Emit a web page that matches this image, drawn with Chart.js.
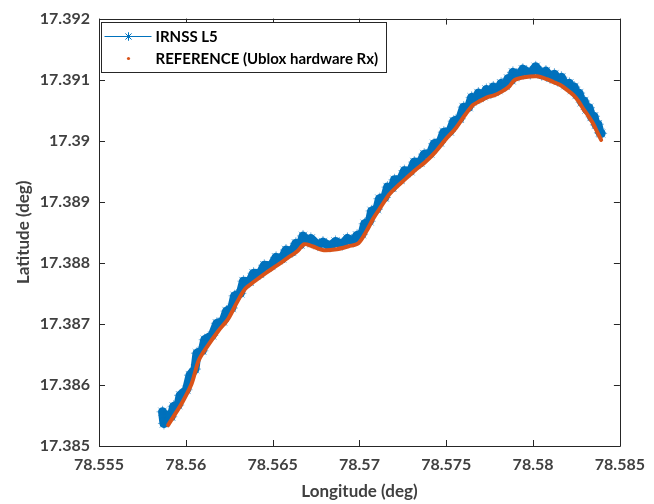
<!DOCTYPE html>
<html>
<head>
<meta charset="utf-8">
<script src="https://cdn.jsdelivr.net/npm/chart.js@4"></script>
<style>
html,body{margin:0;padding:0;background:#fff;}
#wrap{width:654px;height:504px;position:relative;}
</style>
</head>
<body>
<div id="wrap"><canvas id="c" width="654" height="504"></canvas></div>
<script>
// ---------- DATA ----------
const xTickValues = [78.555, 78.56, 78.565, 78.57, 78.575, 78.58, 78.585];
const xTickLabels = ['78.555', '78.56', '78.565', '78.57', '78.575', '78.58', '78.585'];
const yTickValues = [17.385, 17.386, 17.387, 17.388, 17.389, 17.39, 17.391, 17.392];
const yTickLabels = ['17.385', '17.386', '17.387', '17.388', '17.389', '17.39', '17.391', '17.392'];

const seriesNames = ['IRNSS L5', 'REFERENCE (Ublox hardware Rx)'];

// IRNSS L5 (noisy receiver track)
const irnssLon = [
  78.55866, 78.55874, 78.55880,
  78.55890, 78.55916, 78.55930, 78.55956, 78.55967, 78.56004, 78.56024, 78.56053,
  78.56064, 78.56095, 78.56109, 78.56152, 78.56179, 78.56214, 78.56235, 78.56265,
  78.56281, 78.56314, 78.56332, 78.56368, 78.56390, 78.56427, 78.56452, 78.56492,
  78.56520, 78.56555, 78.56577, 78.56612, 78.56634, 78.56660, 78.56675, 78.56703,
  78.56720, 78.56760, 78.56790, 78.56831, 78.56862, 78.56902, 78.56931, 78.56964,
  78.56986, 78.57015, 78.57030, 78.57058, 78.57070, 78.57101, 78.57115, 78.57146,
  78.57162, 78.57189, 78.57202, 78.57237, 78.57259, 78.57294, 78.57316, 78.57351,
  78.57373, 78.57408, 78.57430, 78.57464, 78.57486, 78.57521, 78.57543, 78.57578,
  78.57600, 78.57629, 78.57646, 78.57672, 78.57685, 78.57714, 78.57731, 78.57757,
  78.57771, 78.57800, 78.57816, 78.57842, 78.57856, 78.57876, 78.57884, 78.57919,
  78.57941, 78.57984, 78.58015, 78.58050, 78.58074, 78.58098, 78.58123, 78.58143,
  78.58163, 78.58186, 78.58209, 78.58223, 78.58237, 78.58251, 78.58265, 78.58280,
  78.58294, 78.58308, 78.58322, 78.58337, 78.58351, 78.58362, 78.58373, 78.58385,
  78.58392
];
const irnssLat = [
  17.38556, 17.38537, 17.38552,
  17.38546, 17.38548, 17.38565, 17.38567, 17.38583, 17.38592, 17.38616, 17.38626,
  17.38652, 17.38656, 17.38674, 17.38681, 17.38701, 17.38704, 17.38721, 17.38726,
  17.38746, 17.38750, 17.38770, 17.38769, 17.38783, 17.38782, 17.38796, 17.38795,
  17.38809, 17.38807, 17.38821, 17.38818, 17.38832, 17.38830, 17.38844, 17.38835,
  17.38840, 17.38829, 17.38834, 17.38827, 17.38835, 17.38830, 17.38840, 17.38835,
  17.38845, 17.38847, 17.38864, 17.38868, 17.38885, 17.38888, 17.38905, 17.38907,
  17.38924, 17.38923, 17.38936, 17.38936, 17.38951, 17.38950, 17.38965, 17.38964,
  17.38978, 17.38979, 17.38995, 17.38997, 17.39014, 17.39015, 17.39032, 17.39036,
  17.39055, 17.39055, 17.39071, 17.39067, 17.39078, 17.39073, 17.39084, 17.39078,
  17.39088, 17.39083, 17.39094, 17.39090, 17.39102, 17.39099, 17.39112, 17.39107,
  17.39117, 17.39110, 17.39121, 17.39108, 17.39114, 17.39103, 17.39109, 17.39098,
  17.39104, 17.39091, 17.39094, 17.39083, 17.39088, 17.39075, 17.39078, 17.39063,
  17.39065, 17.39051, 17.39054, 17.39039, 17.39040, 17.39026, 17.39027, 17.39013,
  17.39012
];

// REFERENCE (Ublox hardware Rx)
const refLon = [
  78.55898, 78.55938, 78.55977, 78.56034, 78.56074, 78.56119, 78.56188, 78.56244,
  78.56290, 78.56341, 78.56398, 78.56460, 78.56528, 78.56585, 78.56642, 78.56682,
  78.56727, 78.56796, 78.56869, 78.56938, 78.56994, 78.57040, 78.57080, 78.57125,
  78.57171, 78.57210, 78.57267, 78.57324, 78.57381, 78.57438, 78.57494, 78.57551,
  78.57608, 78.57654, 78.57693, 78.57739, 78.57779, 78.57824, 78.57864, 78.57892,
  78.57949, 78.58023, 78.58080, 78.58119, 78.58159, 78.58205, 78.58233, 78.58261,
  78.58290, 78.58318, 78.58347, 78.58369, 78.58392
];
const refLat = [
  17.385341, 17.385521, 17.385700, 17.386025, 17.386400, 17.386611, 17.386888, 17.387083,
  17.387328, 17.387572, 17.387702, 17.387832, 17.387963, 17.388077, 17.388190, 17.388304,
  17.388272, 17.388207, 17.388223, 17.388272, 17.388321, 17.388516, 17.388728, 17.388923,
  17.389118, 17.389232, 17.389379, 17.389525, 17.389656, 17.389818, 17.390014, 17.390193,
  17.390421, 17.390584, 17.390649, 17.390714, 17.390746, 17.390812, 17.390893, 17.390991,
  17.391039, 17.391056, 17.391007, 17.390958, 17.390909, 17.390812, 17.390746, 17.390649,
  17.390519, 17.390405, 17.390274, 17.390144, 17.390014
];

// ---------- STYLE ----------
const BLUE = '#0072BD';
const ORANGE = '#D95319';
const AXIS = '#262626';
const TXT = '#404040';
const FONT = 'Lato, "Open Sans", "DejaVu Sans", sans-serif';

const irnssData = irnssLon.map((x, i) => ({x: x, y: irnssLat[i]}));
const refData = refLon.map((x, i) => ({x: x, y: refLat[i]}));

const frameTicks = {
  id: 'frameTicks',
  afterDraw(chart) {
    const {ctx, chartArea: a, scales} = chart;
    const L = 6;
    ctx.save();
    ctx.strokeStyle = AXIS;
    ctx.lineWidth = 1;
    ctx.beginPath();
    ctx.rect(Math.round(a.left) + 0.5, Math.round(a.top) + 0.5,
             Math.round(a.right - a.left), Math.round(a.bottom - a.top));
    scales.x.ticks.forEach(t => {
      const px = Math.round(scales.x.getPixelForValue(t.value)) + 0.5;
      ctx.moveTo(px, a.bottom); ctx.lineTo(px, a.bottom - L);
      ctx.moveTo(px, a.top); ctx.lineTo(px, a.top + L);
    });
    scales.y.ticks.forEach(t => {
      const py = Math.round(scales.y.getPixelForValue(t.value)) + 0.5;
      ctx.moveTo(a.left, py); ctx.lineTo(a.left + L, py);
      ctx.moveTo(a.right, py); ctx.lineTo(a.right - L, py);
    });
    ctx.stroke();

    // legend box (MATLAB style, inside top-left)
    const bx = Math.round(a.left) + 2.5, by = Math.round(a.top) + 3.5, bw = 285, bh = 50;
    ctx.fillStyle = '#fff';
    ctx.fillRect(bx, by, bw, bh);
    ctx.strokeStyle = AXIS;
    ctx.strokeRect(bx, by, bw, bh);
    const y1 = by + 14, y2 = by + 36;
    ctx.strokeStyle = BLUE;
    ctx.lineWidth = 1;
    ctx.beginPath();
    ctx.moveTo(bx + 3, y1); ctx.lineTo(bx + 50, y1);
    ctx.stroke();
    Chart.helpers.drawPoint(ctx, {pointStyle: 'star', radius: 4, rotation: 0, borderWidth: 1},
                            bx + 27, y1);
    ctx.stroke();
    ctx.fillStyle = ORANGE;
    ctx.beginPath();
    ctx.arc(bx + 27, y2, 1.6, 0, Math.PI * 2);
    ctx.fill();
    ctx.fillStyle = '#000';
    ctx.font = 'bold 15px ' + FONT;
    ctx.textBaseline = 'middle';
    ctx.textAlign = 'left';
    ctx.fillText(seriesNames[0], bx + 54, y1 + 1);
    ctx.fillText(seriesNames[1], bx + 54, y2 + 1);
    ctx.restore();
  }
};

new Chart(document.getElementById('c'), {
  type: 'scatter',
  data: {
    datasets: [
      {
        label: seriesNames[0],
        data: irnssData,
        showLine: true,
        borderColor: BLUE,
        backgroundColor: BLUE,
        borderWidth: 9,
        borderJoinStyle: 'round',
        borderCapStyle: 'round',
        tension: 0,
        pointStyle: 'star',
        pointRadius: 6,
        pointBorderWidth: 0.8,
        pointBorderColor: 'rgba(0,114,189,0.7)',
        order: 2
      },
      {
        label: seriesNames[1],
        data: refData,
        showLine: true,
        borderColor: ORANGE,
        backgroundColor: ORANGE,
        borderWidth: 4,
        borderJoinStyle: 'round',
        borderCapStyle: 'round',
        pointRadius: 0,
        tension: 0.3,
        order: 1
      }
    ]
  },
  options: {
    responsive: false,
    animation: false,
    events: [],
    layout: {padding: {top: 16, right: 27, left: 0, bottom: 0}},
    plugins: {legend: {display: false}, tooltip: {enabled: false}},
    scales: {
      x: {
        type: 'linear', min: 78.555, max: 78.585,
        afterBuildTicks: s => { s.ticks = xTickValues.map(v => ({value: v})); },
        afterFit: s => { s.height = 58; },
        grid: {display: false, drawTicks: false},
        border: {display: false},
        ticks: {
          padding: 9, color: TXT, autoSkip: false, maxRotation: 0,
          font: {family: FONT, size: 16, weight: 'bold'},
          callback: (v, i) => xTickLabels[i]
        },
        title: {
          display: true, text: 'Longitude (deg)', color: TXT,
          font: {family: FONT, size: 17, weight: 'bold'},
          padding: {top: 0, bottom: 2}
        }
      },
      y: {
        type: 'linear', min: 17.385, max: 17.392,
        afterBuildTicks: s => { s.ticks = yTickValues.map(v => ({value: v})); },
        afterFit: s => { s.width = 99; },
        grid: {display: false, drawTicks: false},
        border: {display: false},
        ticks: {
          padding: 9, color: TXT, autoSkip: false,
          font: {family: FONT, size: 16, weight: 'bold'},
          callback: (v, i) => yTickLabels[i]
        },
        title: {
          display: true, text: 'Latitude (deg)', color: TXT,
          font: {family: FONT, size: 17, weight: 'bold'},
          padding: {top: 13, bottom: 0}
        }
      }
    }
  },
  plugins: [frameTicks]
});
</script>
</body>
</html>
